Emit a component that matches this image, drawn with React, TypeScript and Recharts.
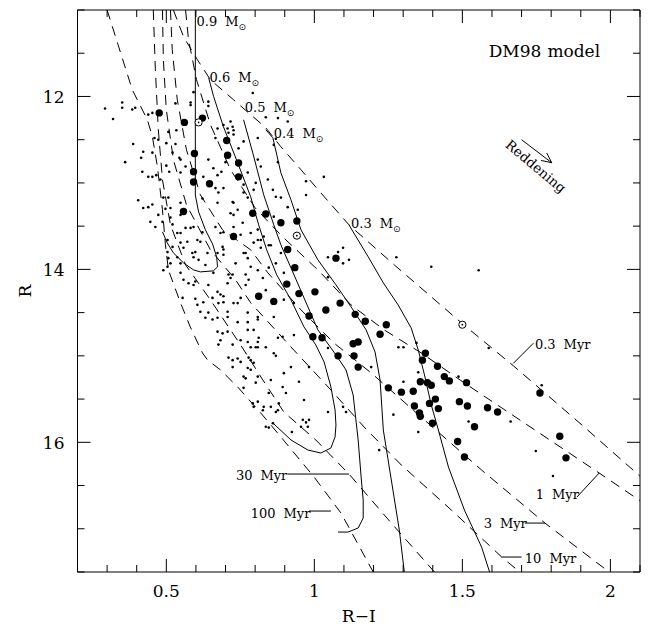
import React from 'react';
import { ComposedChart, Line, Scatter, XAxis, YAxis, ReferenceLine, ReferenceDot } from 'recharts';

type Pair = [number, number];

// ---- axes ----
const xTicks = [0.2, 0.3, 0.4, 0.5, 0.6, 0.7, 0.8, 0.9, 1, 1.1, 1.2, 1.3, 1.4, 1.5, 1.6, 1.7, 1.8, 1.9, 2, 2.1];
const xMajor = [0.5, 1, 1.5, 2];
const yTicks = [11, 11.5, 12, 12.5, 13, 13.5, 14, 14.5, 15, 15.5, 16, 16.5, 17, 17.5];
const yMajor = [12, 14, 16];

// ---- evolutionary tracks (solid) ----
const track09: Pair[] = [[0.598, 11.0], [0.598, 13.14], [0.609, 13.335], [0.632, 13.543], [0.656, 13.705], [0.670, 13.855], [0.673, 13.971], [0.659, 14.017], [0.615, 14.029], [0.592, 14.006], [0.558, 13.925], [0.524, 13.809], [0.503, 13.693], [0.487, 13.566]];
const track06: Pair[] = [[0.643, 11.784], [0.660, 12.003], [0.693, 12.351], [0.741, 12.767], [0.785, 13.161], [0.812, 13.485], [0.839, 13.774], [0.873, 14.064], [0.921, 14.353], [0.965, 14.665], [1.005, 14.874], [1.033, 15.071], [1.056, 15.360], [1.070, 15.626], [1.073, 15.800], [1.070, 15.938], [1.056, 16.066], [1.022, 16.124], [0.978, 16.089], [0.921, 15.973], [0.860, 15.777]];
const track05: Pair[] = [[0.761, 12.270], [0.792, 12.652], [0.829, 13.138], [0.863, 13.485], [0.887, 13.716], [0.927, 14.029], [1.012, 14.700], [1.073, 14.989], [1.107, 15.163], [1.131, 15.452], [1.148, 15.973], [1.158, 16.401], [1.165, 16.668], [1.165, 16.876], [1.148, 16.991], [1.114, 17.038], [1.080, 17.038]];
const track04: Pair[] = [[0.836, 12.385], [0.860, 12.478], [0.887, 12.883], [0.921, 13.196], [0.955, 13.543], [1.012, 13.890], [1.073, 14.179], [1.124, 14.434], [1.175, 14.700], [1.205, 14.955], [1.222, 15.279], [1.233, 15.858], [1.260, 16.436], [1.287, 17.015], [1.304, 17.501]];
const track03: Pair[] = [[1.117, 13.485], [1.131, 13.566], [1.182, 13.855], [1.233, 14.156], [1.283, 14.411], [1.327, 14.677], [1.351, 14.932], [1.372, 15.221], [1.395, 15.568], [1.419, 15.858], [1.453, 16.286], [1.507, 16.784], [1.565, 17.212], [1.592, 17.501]];

// ---- isochrones (dashed) ----
const iso03: Pair[] = [[0.524, 11.0], [0.558, 11.309], [0.605, 11.575], [0.649, 11.807], [0.727, 12.038], [0.836, 12.362], [0.887, 12.582], [0.955, 12.848], [1.022, 13.115], [1.117, 13.485], [1.270, 13.948], [1.497, 14.619], [1.673, 15.117], [1.904, 15.800], [2.107, 16.413]];
const iso1: Pair[] = [[0.565, 11.0], [0.575, 11.344], [0.602, 11.807], [0.649, 12.328], [0.717, 12.848], [0.800, 13.288], [0.893, 13.624], [1.012, 14.006], [1.124, 14.411], [1.236, 14.700], [1.361, 14.966], [1.507, 15.314], [1.745, 15.858], [1.962, 16.355], [2.107, 16.691]];
const iso3: Pair[] = [[0.514, 11.0], [0.520, 11.459], [0.537, 12.038], [0.568, 12.617], [0.615, 13.138], [0.690, 13.543], [0.785, 13.774], [0.843, 14.040], [0.955, 14.469], [1.066, 14.851], [1.192, 15.198], [1.372, 15.742], [1.565, 16.321], [1.779, 16.934], [1.996, 17.501]];
const iso10: Pair[] = [[0.487, 11.0], [0.490, 11.575], [0.500, 12.154], [0.524, 12.733], [0.568, 13.253], [0.649, 13.774], [0.734, 14.121], [0.785, 14.387], [0.921, 14.897], [1.056, 15.395], [1.168, 15.823], [1.294, 16.263], [1.463, 16.784], [1.633, 17.327], [1.694, 17.501]];
const iso30: Pair[] = [[0.456, 11.0], [0.463, 11.691], [0.473, 12.385], [0.487, 12.964], [0.514, 13.485], [0.565, 13.948], [0.649, 14.353], [0.751, 14.874], [0.826, 15.279], [0.897, 15.650], [1.005, 15.973], [1.117, 16.367], [1.260, 16.934], [1.406, 17.501]];
const iso100: Pair[] = [[0.300, 11.0], [0.337, 11.402], [0.385, 11.922], [0.436, 12.270], [0.453, 12.466], [0.470, 12.813], [0.487, 13.311], [0.497, 13.716], [0.507, 14.006], [0.548, 14.388], [0.581, 14.666], [0.622, 14.966], [0.639, 15.047], [0.683, 15.163], [0.741, 15.360], [0.819, 15.661], [0.887, 15.938], [0.999, 16.401], [1.090, 16.818], [1.199, 17.501]];

// ---- stars ----
const bigStars: Pair[] = [[0.476, 12.19], [0.561, 12.30], [0.622, 12.25], [0.595, 12.66], [0.704, 12.51], [0.707, 12.68], [0.744, 12.77], [0.592, 12.87], [0.744, 12.93], [0.592, 12.99], [0.646, 13.01], [0.558, 13.33], [0.792, 13.35], [0.836, 13.36], [0.727, 13.62], [0.887, 13.46], [0.941, 13.44], [0.910, 13.77], [1.073, 13.87], [0.934, 13.98], [0.907, 14.17], [0.948, 14.28], [1.002, 14.26], [0.812, 14.31], [0.863, 14.37], [1.087, 14.39], [1.039, 14.47], [0.982, 14.54], [1.138, 14.52], [1.172, 14.60], [1.243, 14.64], [1.222, 14.75], [0.995, 14.78], [1.026, 14.79], [1.131, 14.86], [1.148, 14.84], [1.134, 15.00], [1.080, 15.00], [1.148, 15.13], [1.375, 14.97], [1.365, 15.05], [1.416, 15.12], [1.439, 15.24], [1.456, 15.29], [1.358, 15.30], [1.382, 15.31], [1.395, 15.34], [1.514, 15.31], [1.250, 15.37], [1.294, 15.42], [1.334, 15.41], [1.338, 15.58], [1.409, 15.50], [1.389, 15.55], [1.419, 15.61], [1.490, 15.53], [1.517, 15.58], [1.585, 15.60], [1.619, 15.65], [1.355, 15.66], [1.358, 15.70], [1.399, 15.78], [1.541, 15.82], [1.762, 15.43], [1.484, 15.99], [1.507, 16.17], [1.829, 15.93], [1.850, 16.18]];
const circledStars: Pair[] = [[0.609, 12.30], [0.941, 13.61], [1.500, 14.64]];
const smallStars: Pair[] = [
  [0.293, 12.14], [0.351, 12.07], [0.351, 12.13], [0.320, 12.26], [0.385, 12.15], [0.395, 12.13], [0.439, 12.21], [0.453, 12.19], [0.531, 12.08], [0.582, 12.10], [0.642, 12.11],
  [0.388, 12.55], [0.422, 12.64], [0.415, 12.71], [0.361, 12.76], [0.453, 12.65], [0.460, 12.48], [0.473, 12.50], [0.500, 12.54], [0.531, 12.55], [0.507, 12.41], [0.534, 12.39],
  [0.673, 12.37], [0.693, 12.33], [0.724, 12.35], [0.710, 12.42], [0.666, 12.48], [0.419, 12.87], [0.439, 12.93], [0.453, 12.93], [0.466, 12.91], [0.480, 12.96], [0.500, 12.80],
  [0.510, 12.87], [0.544, 12.71], [0.521, 12.65], [0.548, 12.88], [0.565, 12.81], [0.659, 12.83], [0.673, 12.91], [0.686, 12.87], [0.700, 12.76], [0.666, 13.06], [0.625, 12.93],
  [0.693, 13.06], [0.724, 13.22], [0.741, 13.31], [0.727, 13.37], [0.775, 13.17], [0.795, 13.08], [0.761, 13.02], [0.405, 13.20], [0.422, 13.29], [0.439, 13.28], [0.453, 13.25],
  [0.490, 13.17], [0.507, 13.17], [0.497, 13.30], [0.514, 13.29], [0.548, 13.23], [0.473, 13.37], [0.446, 13.45], [0.463, 13.51], [0.487, 13.45], [0.514, 13.40], [0.521, 13.48],
  [0.548, 13.37], [0.565, 13.52], [0.582, 13.52], [0.548, 13.58], [0.537, 13.58], [0.504, 13.66], [0.521, 13.74], [0.548, 13.69], [0.571, 13.68], [0.605, 13.66], [0.622, 13.57],
  [0.666, 13.51], [0.693, 13.57], [0.727, 13.51], [0.751, 13.60], [0.785, 13.58], [0.795, 13.69], [0.761, 13.81], [0.775, 13.87], [0.785, 13.97], [0.734, 13.93], [0.693, 13.83],
  [0.690, 13.74], [0.639, 13.81], [0.598, 13.80], [0.558, 13.75], [0.504, 13.80], [0.507, 13.87], [0.537, 13.86], [0.548, 13.93], [0.514, 13.93], [0.592, 13.86], [0.609, 13.89],
  [0.632, 13.95], [0.659, 14.04], [0.724, 14.06], [0.768, 14.06], [0.809, 14.01], [0.504, 13.97], [0.490, 14.01],
  [0.548, 14.04], [0.558, 14.12], [0.575, 14.16], [0.592, 14.18], [0.598, 14.14], [0.555, 14.33], [0.598, 14.34], [0.605, 14.41], [0.642, 14.18], [0.673, 14.26], [0.683, 14.29],
  [0.693, 14.31], [0.693, 14.38], [0.676, 14.39], [0.656, 14.33], [0.707, 14.16], [0.710, 14.06], [0.717, 14.10], [0.625, 14.38], [0.615, 14.49], [0.642, 14.50], [0.632, 14.56],
  [0.656, 14.58], [0.673, 14.56], [0.707, 14.49], [0.707, 14.55], [0.727, 14.39], [0.741, 14.39], [0.751, 14.33], [0.768, 14.18], [0.778, 14.12], [0.741, 14.61], [0.775, 14.61],
  [0.775, 14.50], [0.775, 14.70], [0.795, 14.70], [0.673, 14.72], [0.690, 14.74], [0.707, 14.72], [0.683, 14.82], [0.676, 14.87], [0.724, 14.87], [0.751, 14.82], [0.775, 14.84],
  [0.785, 14.90], [0.809, 14.84], [0.809, 14.90], [0.741, 15.03], [0.724, 15.05], [0.710, 15.02], [0.751, 15.07], [0.724, 15.13], [0.778, 15.02], [0.795, 15.08], [0.775, 15.14],
  [0.785, 15.16], [0.761, 15.24], [0.768, 15.26], [0.785, 15.05], [0.761, 15.37], [0.792, 15.55], [0.809, 15.53], [0.795, 15.59],
  [0.829, 13.62], [0.819, 13.75], [0.846, 13.72], [0.809, 13.66], [1.097, 13.75], [1.117, 13.89], [1.097, 13.93], [0.846, 13.98], [0.870, 13.93], [0.826, 14.10], [0.897, 14.04],
  [0.897, 14.35], [0.836, 14.24], [0.809, 14.55], [0.809, 14.58], [0.863, 14.55], [0.931, 14.39], [0.931, 14.76], [0.877, 14.79], [0.893, 14.78], [0.812, 14.79], [0.836, 14.90],
  [0.802, 14.90], [0.863, 14.97], [0.870, 15.00], [1.046, 14.91], [0.982, 15.13], [0.921, 15.13], [0.897, 15.20], [0.809, 15.24], [0.853, 15.28], [0.893, 15.36], [0.904, 15.43],
  [0.948, 15.30], [0.965, 15.51], [1.046, 15.65], [1.097, 15.59], [1.107, 15.65], [1.284, 14.90], [1.301, 14.90], [1.345, 14.85], [1.351, 15.19], [1.192, 15.13], [1.301, 15.30],
  [1.267, 15.68], [1.277, 13.86], [1.395, 13.97], [1.046, 14.09], [0.802, 15.31], [0.846, 15.43], [0.829, 15.59], [0.870, 15.65], [0.961, 15.74], [0.972, 15.77], [0.955, 15.82],
  [0.880, 15.55], [0.860, 15.78],
  [1.555, 14.01], [1.589, 14.91], [1.487, 15.24], [1.768, 15.34], [1.663, 15.76], [1.521, 15.76], [1.351, 15.88], [1.748, 16.10], [1.806, 16.39], [1.219, 16.09], [0.924, 15.88],
  [0.978, 15.82], [0.877, 15.63], [0.853, 15.59], [0.826, 15.63], [0.836, 15.82], [0.846, 15.83], [0.982, 15.74],
  [0.792, 11.96], [0.836, 12.24], [0.877, 12.25], [0.910, 12.29], [1.032, 12.93], [0.972, 12.98], [0.809, 12.48], [0.870, 12.49], [0.863, 12.56], [0.761, 12.52], [0.744, 12.60],
  [0.717, 12.29], [0.707, 12.37], [0.727, 12.39], [0.727, 12.44], [0.642, 12.06], [0.592, 11.95], [0.582, 12.07], [0.548, 12.73], [0.642, 12.73], [0.622, 13.18], [0.676, 13.11],
  [0.673, 13.23], [0.727, 13.23], [0.717, 13.35], [0.761, 13.11], [0.775, 12.88], [0.809, 12.73], [0.819, 12.81], [0.802, 13.00], [0.877, 12.76], [0.843, 12.96], [0.860, 13.08],
  [0.870, 13.16], [0.887, 13.17], [0.910, 13.28], [0.863, 13.39], [0.809, 13.54], [0.819, 13.66], [0.853, 13.72], [0.887, 13.81], [0.758, 13.46], [0.683, 13.58], [0.768, 13.81],
  [0.693, 13.77], [0.673, 13.81], [0.615, 13.68], [0.592, 13.51], [0.588, 13.81], [0.972, 13.14], [0.944, 13.31], [1.046, 13.86], [1.080, 13.80],
];

// ---- annotations ----
const massLabels = ['0.9', '0.6', '0.5', '0.4', '0.3'];
const massLabelAt: Pair[] = [[0.602, 11.19], [0.646, 11.83], [0.765, 12.18], [0.863, 12.48], [1.124, 13.52]];
const ageLabels = ['0.3', '1', '3', '10', '30', '100'];
const ageLabelAt: Pair[] = [[1.745, 14.92], [1.748, 16.656], [1.572, 16.992], [1.711, 17.397], [0.735, 16.437], [0.785, 16.876]];
const ageLeaders: [Pair, Pair][] = [
  [[1.672, 15.087], [1.740, 14.854]],
  [[1.887, 16.633], [1.962, 16.355]],
  [[1.711, 16.934], [1.779, 16.934]],
  [[1.633, 17.327], [1.700, 17.327]],
  [[0.910, 16.367], [1.117, 16.367]],
  [[0.982, 16.795], [1.056, 16.795]],
];
const reddeningArrow: Pair[] = [[1.70, 12.50], [1.802, 12.767]];
const reddeningHead: Pair[] = [[1.766, 12.74], [1.785, 12.654]];

const FONT = '"DejaVu Serif", "Liberation Serif", serif';
const toPts = (a: Pair[]) => a.map(([x, y]) => ({ x, y }));
const isIn = (arr: number[], v: number) => arr.some((a) => Math.abs(a - v) < 1e-6);

const BottomTick = (p: any) => {
  const v = p.payload.value;
  const M = isIn(xMajor, v);
  return (
    <g>
      <line x1={p.x} x2={p.x} y1={p.y} y2={p.y - (M ? 13 : 7)} stroke="#000" strokeWidth={1} />
      {M && (
        <text x={p.x} y={p.y + 25} textAnchor="middle" fontFamily={FONT} fontSize={17} fill="#000">
          {String(v)}
        </text>
      )}
    </g>
  );
};
const TopTick = (p: any) => {
  const M = isIn(xMajor, p.payload.value);
  return <line x1={p.x} x2={p.x} y1={p.y} y2={p.y + (M ? 13 : 7)} stroke="#000" strokeWidth={1} />;
};
const LeftTick = (p: any) => {
  const v = p.payload.value;
  const M = isIn(yMajor, v);
  return (
    <g>
      <line x1={p.x} x2={p.x + (M ? 13 : 7)} y1={p.y} y2={p.y} stroke="#000" strokeWidth={1} />
      {M && (
        <text x={p.x - 13} y={p.y + 7} textAnchor="end" fontFamily={FONT} fontSize={17} fill="#000">
          {String(v)}
        </text>
      )}
    </g>
  );
};
const RightTick = (p: any) => {
  const M = isIn(yMajor, p.payload.value);
  return <line x1={p.x} x2={p.x - (M ? 13 : 7)} y1={p.y} y2={p.y} stroke="#000" strokeWidth={1} />;
};

const BigDot = (p: any) => <circle cx={p.cx} cy={p.cy} r={3.7} fill="#000" />;
const SmallDot = (p: any) => <circle cx={p.cx} cy={p.cy} r={1.3} fill="#000" />;
const SunDot = (p: any) => (
  <g>
    <circle cx={p.cx} cy={p.cy} r={3.6} fill="#fff" stroke="#000" strokeWidth={1} />
    <circle cx={p.cx} cy={p.cy} r={0.9} fill="#000" />
  </g>
);

const massShape = (label: string) => (p: any) => (
  <text x={p.cx} y={p.cy} fontFamily={FONT} fontSize={13} fill="#000">
    {label}
    <tspan dx={8}>M</tspan>
    <tspan dy={4} fontSize={9} fontFamily='"DejaVu Sans", sans-serif'>⊙</tspan>
  </text>
);
const ageShape = (label: string) => (p: any) => (
  <text x={p.cx} y={p.cy} fontFamily={FONT} fontSize={13} fill="#000">
    {label}
    <tspan dx={8}>Myr</tspan>
  </text>
);

const AX = { xAxisId: 'b', yAxisId: 'l' } as const;

export default function App() {
  const lines: { d: Pair[]; dash?: string }[] = [
    { d: track09 }, { d: track06 }, { d: track05 }, { d: track04 }, { d: track03 },
    { d: iso03, dash: '10 7' }, { d: iso1, dash: '10 7' }, { d: iso3, dash: '10 7' },
    { d: iso10, dash: '10 7' }, { d: iso30, dash: '10 7' }, { d: iso100, dash: '10 7' },
  ];
  return (
    <div style={{ position: 'absolute', left: 0, top: 0, width: 651, height: 627, background: '#fff' }}>
      <ComposedChart width={651} height={627} margin={{ top: 0, right: 0, bottom: 15, left: 17.5 }}>
        <XAxis xAxisId="b" dataKey="x" type="number" domain={[0.2, 2.1]} allowDataOverflow ticks={xTicks} interval={0}
          tick={<BottomTick />} tickLine={false} tickSize={0} tickMargin={0} height={40}
          axisLine={{ stroke: '#000', strokeWidth: 1 }} />
        <XAxis xAxisId="t" orientation="top" dataKey="x" type="number" domain={[0.2, 2.1]} allowDataOverflow ticks={xTicks} interval={0}
          tick={<TopTick />} tickLine={false} tickSize={0} tickMargin={0} height={10}
          axisLine={{ stroke: '#000', strokeWidth: 1 }} />
        <YAxis yAxisId="l" dataKey="y" type="number" domain={[11, 17.5]} reversed allowDataOverflow ticks={yTicks} interval={0}
          tick={<LeftTick />} tickLine={false} tickSize={0} tickMargin={0} width={60}
          axisLine={{ stroke: '#000', strokeWidth: 1 }} />
        <YAxis yAxisId="r" orientation="right" dataKey="y" type="number" domain={[11, 17.5]} reversed allowDataOverflow ticks={yTicks} interval={0}
          tick={<RightTick />} tickLine={false} tickSize={0} tickMargin={0} width={11}
          axisLine={{ stroke: '#000', strokeWidth: 1 }} />

        {lines.map((l, i) => (
          <Line key={i} {...AX} data={toPts(l.d)} dataKey="y" type="linear" stroke="#000" strokeWidth={1}
            strokeDasharray={l.dash} dot={false} activeDot={false} isAnimationActive={false} />
        ))}

        <Scatter {...AX} data={toPts(smallStars)} shape={SmallDot} isAnimationActive={false} />
        <Scatter {...AX} data={toPts(bigStars)} shape={BigDot} isAnimationActive={false} />
        <Scatter {...AX} data={toPts(circledStars)} shape={SunDot} isAnimationActive={false} />

        {ageLeaders.map((s, i) => (
          <ReferenceLine key={'al' + i} {...AX} segment={[{ x: s[0][0], y: s[0][1] }, { x: s[1][0], y: s[1][1] }]}
            stroke="#000" strokeWidth={1} ifOverflow="visible" />
        ))}
        <ReferenceLine {...AX} segment={[{ x: reddeningArrow[0][0], y: reddeningArrow[0][1] }, { x: reddeningArrow[1][0], y: reddeningArrow[1][1] }]} stroke="#000" ifOverflow="visible" />
        {reddeningHead.map((h, i) => (
          <ReferenceLine key={'rh' + i} {...AX} segment={[{ x: h[0], y: h[1] }, { x: reddeningArrow[1][0], y: reddeningArrow[1][1] }]} stroke="#000" ifOverflow="visible" />
        ))}

        {massLabels.map((m, i) => (
          <ReferenceDot key={'ml' + i} {...AX} x={massLabelAt[i][0]} y={massLabelAt[i][1]} r={0} ifOverflow="visible" shape={massShape(m)} />
        ))}
        {ageLabels.map((a, i) => (
          <ReferenceDot key={'ag' + i} {...AX} x={ageLabelAt[i][0]} y={ageLabelAt[i][1]} r={0} ifOverflow="visible" shape={ageShape(a)} />
        ))}
        <ReferenceDot {...AX} x={1.589} y={11.54} r={0} ifOverflow="visible"
          shape={(p: any) => (
            <text x={p.cx} y={p.cy} fontFamily={FONT} fontSize={17} fill="#000">DM98<tspan dx={6}>model</tspan></text>
          )} />
        <ReferenceDot {...AX} x={1.738} y={12.85} r={0} ifOverflow="visible"
          shape={(p: any) => (
            <text x={p.cx} y={p.cy} textAnchor="middle" fontFamily={FONT} fontSize={13.5} fill="#000"
              transform={`rotate(40 ${p.cx} ${p.cy})`}>Reddening</text>
          )} />
        <ReferenceDot {...AX} x={1.15} y={17.5} r={0} ifOverflow="visible"
          shape={(p: any) => (
            <text x={p.cx} y={p.cy + 50} textAnchor="middle" fontFamily={FONT} fontSize={17} fill="#000">R−I</text>
          )} />
        <ReferenceDot {...AX} x={0.2} y={14.25} r={0} ifOverflow="visible"
          shape={(p: any) => (
            <text x={p.cx - 47} y={p.cy} textAnchor="middle" fontFamily={FONT} fontSize={17} fill="#000"
              transform={`rotate(-90 ${p.cx - 47} ${p.cy})`}>R</text>
          )} />
      </ComposedChart>
    </div>
  );
}
